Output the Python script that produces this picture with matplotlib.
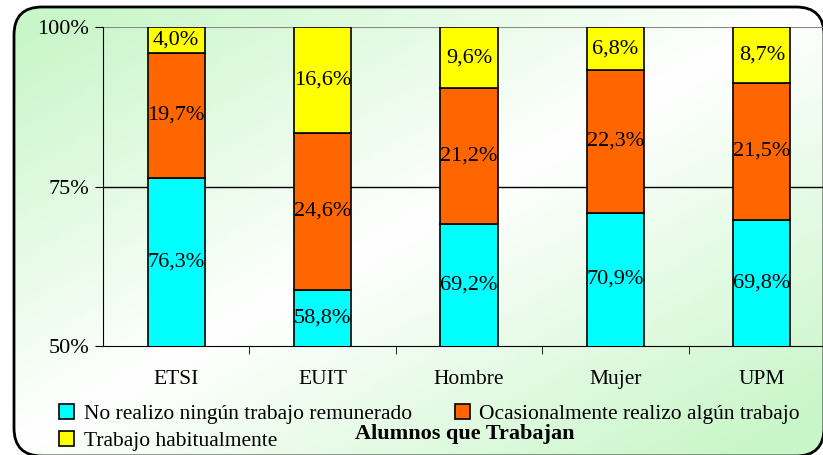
import numpy as np
import matplotlib.pyplot as plt
from matplotlib.patches import FancyBboxPatch, Patch

plt.rcParams['font.family'] = ['Liberation Serif', 'DejaVu Serif']

categories = ['ETSI', 'EUIT', 'Hombre', 'Mujer', 'UPM']
no_trabajo = [76.3, 58.8, 69.2, 70.9, 69.8]
ocasional = [19.7, 24.6, 21.2, 22.3, 21.5]
habitual = [4.0, 16.6, 9.6, 6.8, 8.7]
series_names = ['No realizo ningún trabajo remunerado',
                'Ocasionalmente realizo algún trabajo',
                'Trabajo habitualmente']
colors = ['#00ffff', '#ff6600', '#ffff00']

W, H = 823, 455
fig = plt.figure(figsize=(W/100, H/100), dpi=100)

# background gradient inside rounded frame
bg = fig.add_axes([0, 0, 1, 1], zorder=-10)
bg.set_xlim(0, W); bg.set_ylim(H, 0); bg.axis('off')
xx, yy = np.meshgrid(np.linspace(0, 1, 200), np.linspace(0, 1, 120))
t = np.clip(np.abs(xx + yy - 1.0) * 1.1, 0, 1)
green = np.array([200, 246, 200]) / 255.
img = (1 - t[..., None]) * np.ones(3) + t[..., None] * green
frame = FancyBboxPatch((14, 7), 810, 449, boxstyle='round,pad=0,rounding_size=28',
                       fc='none', ec='black', lw=2, transform=bg.transData)
bg.add_patch(frame)
im = bg.imshow(img, extent=[0, W, H, 0], aspect='auto')
im.set_clip_path(frame)

ax = fig.add_axes([103/W, 1-346/H, (835-103)/W, (346-27)/H])
ax.patch.set_alpha(0)
x = np.arange(len(categories))
bw = 0.39
bottoms = np.zeros(len(categories))
for vals, c in zip([no_trabajo, ocasional, habitual], colors):
    vals = np.array(vals)
    ax.bar(x, vals, bw, bottom=bottoms, color=c, edgecolor='black', lw=1.2, zorder=3)
    for xi, b, v in zip(x, bottoms, vals):
        yc = b + v/2
        if b < 50:
            yc = (50 + b + v)/2
        ax.text(xi, yc, ('%.1f%%' % v).replace('.', ','), ha='center', va='center',
                fontsize=16, zorder=4)
    bottoms += vals

ax.set_ylim(50, 100)
ax.set_xlim(-0.5, 4.5)
ax.set_yticks([50, 75, 100])
ax.set_yticklabels(['50%', '75%', '100%'], fontsize=16)
ax.axhline(75, color='black', lw=1, zorder=1)
ax.axhline(100, color='#888888', lw=1.5, zorder=1)
ax.set_xticks(x)
ax.set_xticklabels(categories, fontsize=15.5)
ax.set_xticks(np.arange(0.5, 4.5, 1), minor=True)
ax.tick_params(axis='x', which='major', length=0, pad=17)
ax.tick_params(axis='x', which='minor', length=6, direction='out')
ax.tick_params(axis='y', length=6, direction='out', pad=4)
for s in ['top', 'right']:
    ax.spines[s].set_visible(False)

handles = [Patch(fc=c, ec='black', lw=1.2) for c in colors]
leg = fig.legend([handles[0], handles[2], handles[1]],
                 [series_names[0], series_names[2], series_names[1]],
                 ncol=2, loc='upper left', bbox_to_anchor=(48/W, 1-393/H),
                 frameon=False, fontsize=15.5, handlelength=0.7, handleheight=0.7,
                 handletextpad=0.45, columnspacing=2.0, labelspacing=0.32, borderpad=0)
fig.text(465/W, 1-434/H, 'Alumnos que Trabajan', ha='center', va='center',
         fontsize=16, fontweight='bold')

fig.savefig('out.png', dpi=100)
